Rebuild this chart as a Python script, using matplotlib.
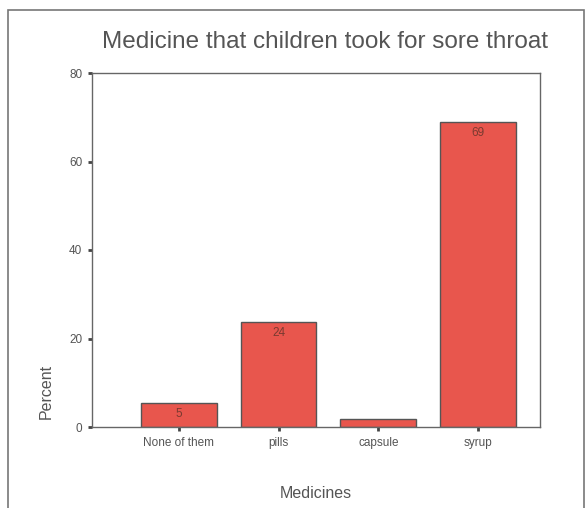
import numpy as np
import matplotlib
matplotlib.use('Agg')
from matplotlib import pyplot as plt
from matplotlib.patches import Rectangle

categories = ['None of them', 'pills', 'capsule', 'syrup']
percent = [5.4, 23.8, 1.8, 69.0]
bar_labels = ['5', '24', '', '69']
yticks = [0, 20, 40, 60, 80]

plt.rcParams['font.family'] = ['Liberation Sans', 'DejaVu Sans']
grey = '#555555'

fig = plt.figure(figsize=(5.86, 5.08), dpi=100)
fig.patch.set_facecolor('white')

# outer frame of the chart
fig.patches.append(Rectangle((8/586, -0.01), 576/586, 1.01 - 10/508, transform=fig.transFigure,
                             fill=False, edgecolor='#777777', linewidth=1.2))

ax = fig.add_axes([92/586, 1 - 427/508, 448/586, 354/508])
x = np.arange(len(categories))
bars = ax.bar(x, percent, width=0.76, color='#e8564d', edgecolor='#555555', linewidth=1.0)

for xi, val, lab in zip(x, percent, bar_labels):
    if lab:
        ax.text(xi, val - 1.2, lab, ha='center', va='top', fontsize=8.5, color='#7a3a30')

ax.set_xlim(-0.87, 3.62)
ax.set_ylim(0, 80)
ax.set_xticks(x)
ax.set_xticklabels(categories, fontsize=8.5, color=grey)
ax.set_yticks(yticks)
ax.set_yticklabels([str(t) for t in yticks], fontsize=8.5, color=grey)
ax.tick_params(axis='both', length=3, width=2, color='#444444', pad=4)

for s in ax.spines.values():
    s.set_color('#666666')
    s.set_linewidth(1.0)

ax.set_xlabel('Medicines', fontsize=11.5, color=grey, labelpad=27)
ax.set_ylabel('Percent', fontsize=11.5, color=grey)
ax.yaxis.set_label_coords(-0.085, 0.1)
fig.text(325/586, 1 - 42/508, 'Medicine that children took for sore throat',
         ha='center', va='center', fontsize=17.5, color=grey)

fig.savefig('out.png', dpi=100)
